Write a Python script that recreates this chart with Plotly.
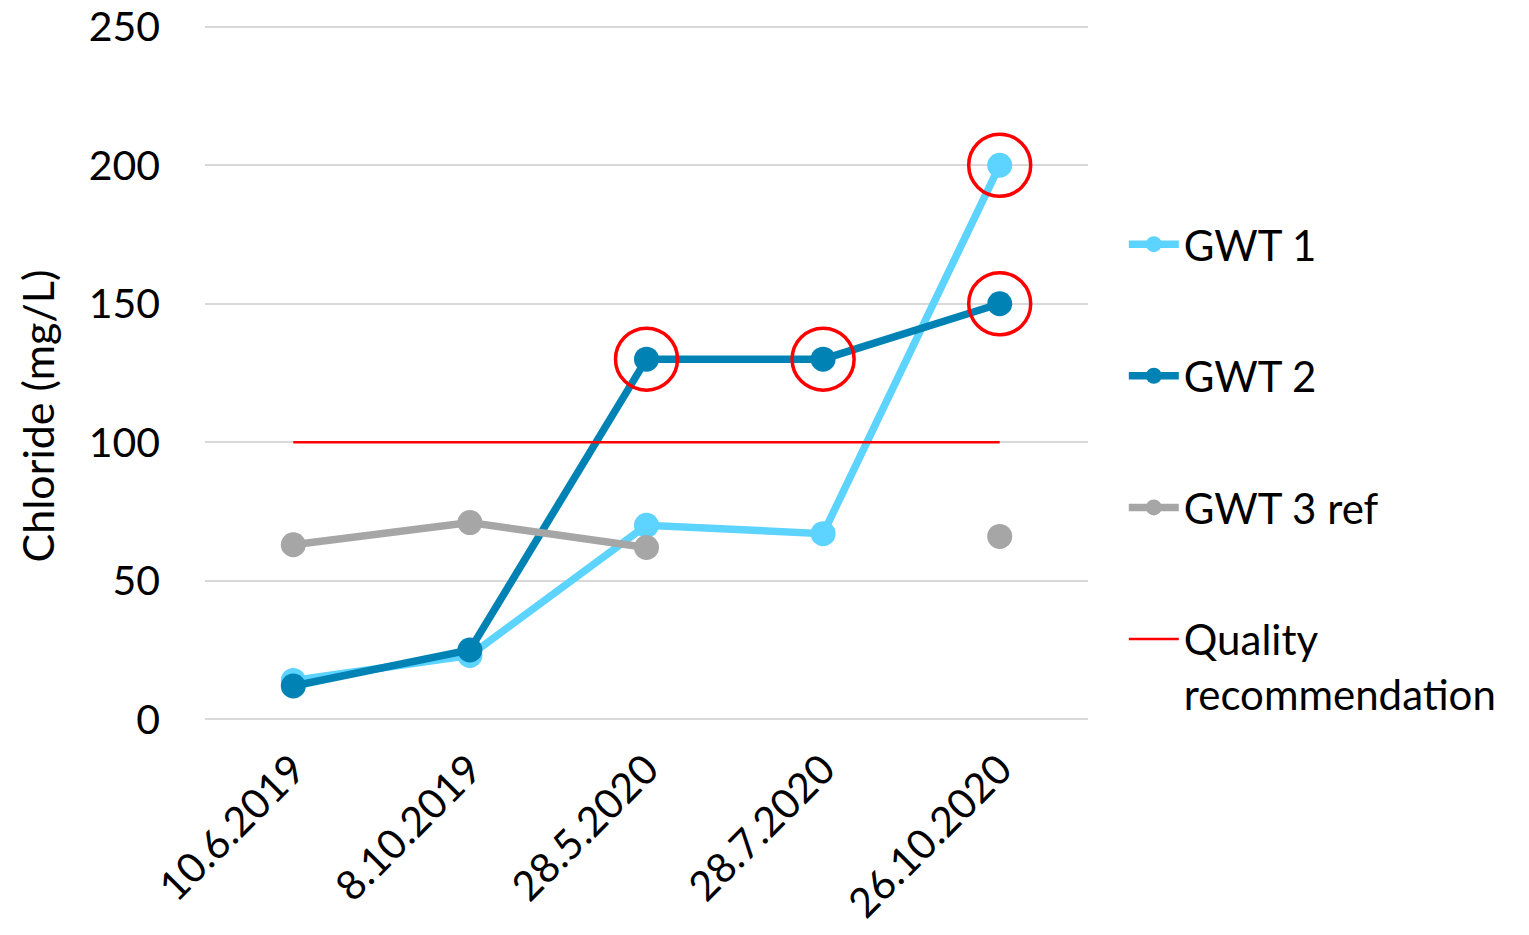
import plotly.graph_objects as go

# Sampling dates and chloride concentrations (mg/L)
dates = ["10.6.2019", "8.10.2019", "28.5.2020", "28.7.2020", "26.10.2020"]
gwt1 = [14, 23, 70, 67, 200]
gwt2 = [12, 25, 130, 130, 150]
gwt3_ref = [63, 71, 62, None, 66]
quality_limit = [100, 100, 100, 100, 100]

# Samples exceeding the quality recommendation, flagged with red rings
flag_dates = ["28.5.2020", "28.7.2020", "26.10.2020", "26.10.2020"]
flag_values = [130, 130, 150, 200]

y_ticks = [0, 50, 100, 150, 200, 250]

FONT = "Lato"
C1 = "#5DD3FF"
C2 = "#0083B4"
C3 = "#A6A6A6"
RED = "#FF0000"

fig = go.Figure()

fig.add_trace(go.Scatter(
    x=dates, y=gwt1, name="GWT 1", legendgroup="g1", mode="lines+markers",
    line=dict(color=C1, width=7.5), marker=dict(color=C1, size=25),
))
fig.add_trace(go.Scatter(
    x=dates, y=gwt2, name="GWT 2", legendgroup="g2", mode="lines+markers",
    line=dict(color=C2, width=7.5), marker=dict(color=C2, size=25),
))
fig.add_trace(go.Scatter(
    x=dates, y=gwt3_ref, name="GWT 3 ref", legendgroup="g3", mode="lines+markers",
    line=dict(color=C3, width=7.5), marker=dict(color=C3, size=25),
    connectgaps=False,
))
fig.add_trace(go.Scatter(
    x=dates, y=quality_limit, name="Quality<br>recommendation", legendgroup="g4",
    mode="lines", line=dict(color=RED, width=2.5),
))
fig.add_trace(go.Scatter(
    x=flag_dates, y=flag_values, mode="markers", showlegend=False, hoverinfo="skip",
    marker=dict(symbol="circle-open", size=62, color=RED, line=dict(color=RED, width=3.5)),
))

# Vertical axis title, placed as a rotated annotation
fig.add_annotation(
    text="Chloride (mg/L)", textangle=-90, showarrow=False,
    xref="paper", yref="paper", x=-0.19, y=0.438,
    xanchor="center", yanchor="middle",
    font=dict(family=FONT, size=43, color="black"),
)

fig.update_layout(
    width=1529, height=935,
    margin=dict(l=205, r=441, t=24, b=213),
    paper_bgcolor="white", plot_bgcolor="white",
    font=dict(family=FONT, size=40, color="black"),
    showlegend=True,
    legend=dict(
        xref="container", yref="container",
        x=0.735, y=0.775, xanchor="left", yanchor="top",
        font=dict(family=FONT, size=42, color="black"),
        tracegroupgap=74, valign="top", itemsizing="trace", itemwidth=50,
        maxheight=900,
        bgcolor="rgba(0,0,0,0)",
    ),
    xaxis=dict(
        type="category", range=[-0.5, 4.5], automargin=False,
        showgrid=False, showline=False, zeroline=False, ticks="",
        tickangle=-45, tickfont=dict(family=FONT, size=41), ticklabelstandoff=14,
    ),
    yaxis=dict(
        range=[-1, 251], tickvals=y_ticks, automargin=False,
        showgrid=True, gridcolor="#D9D9D9", gridwidth=2,
        zeroline=False, showline=False, ticks="",
        tickfont=dict(family=FONT, size=41), ticklabelstandoff=44,
    ),
)

fig.write_html("out.html")
